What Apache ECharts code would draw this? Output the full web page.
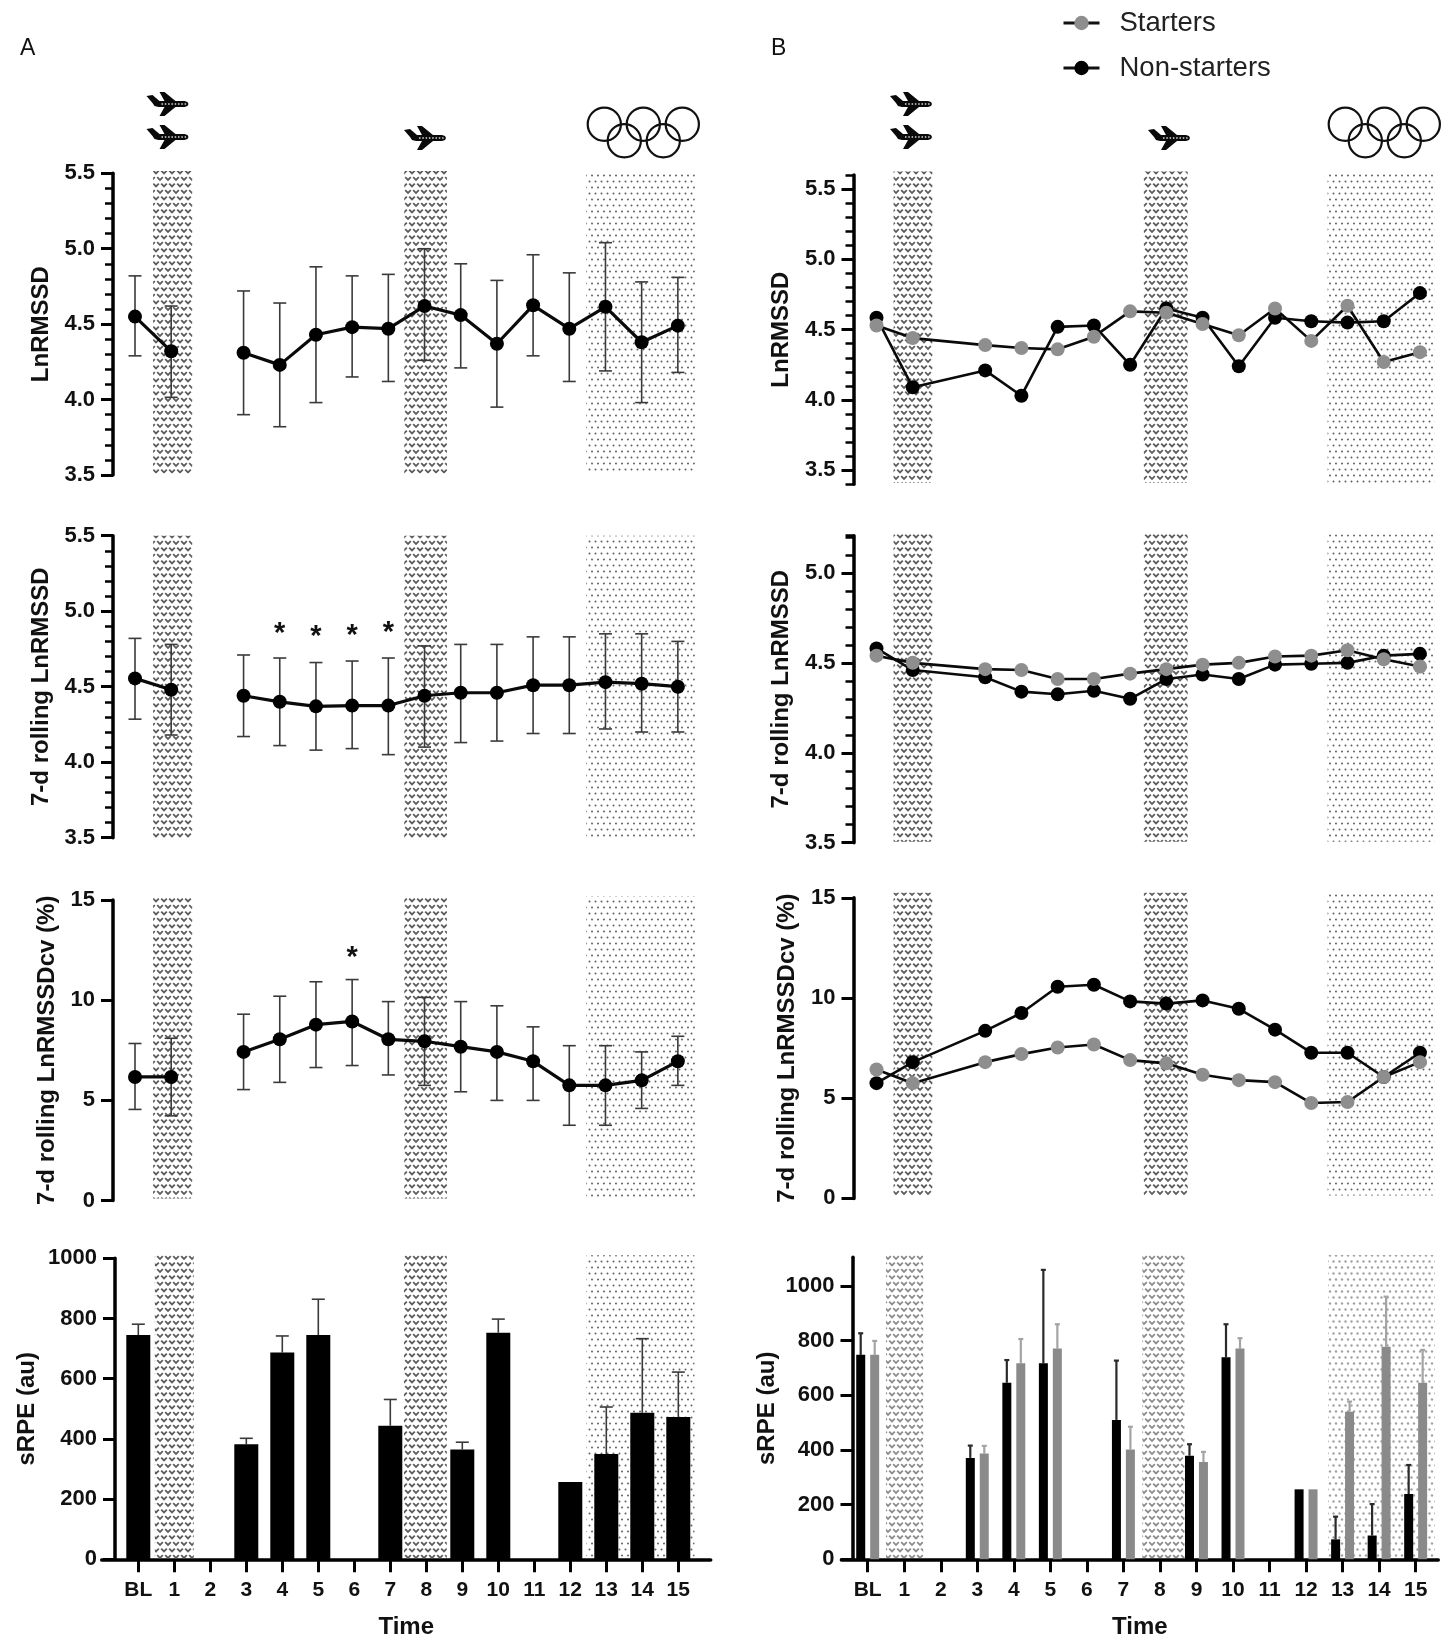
<!DOCTYPE html>
<html><head><meta charset="utf-8">
<style>html,body{margin:0;padding:0;background:#fff}#c{width:1454px;height:1642px}</style>
<script src="https://cdn.jsdelivr.net/npm/echarts@6/dist/echarts.min.js"></script>
</head><body><div id="c"></div>
<script>
const timeLabels=['BL','1','2','3','4','5','6','7','8','9','10','11','12','13','14','15'];
const timeIndex=[0,1,2,3,4,5,6,7,8,9,10,11,12,13,14,15];
// Panel A
const a1Mean=[4.55,4.32,null,4.31,4.23,4.43,4.48,4.47,4.62,4.56,4.37,4.625,4.47,4.615,4.38,4.49];
const a1Hi=[4.82,4.62,null,4.72,4.64,4.88,4.82,4.83,5.0,4.9,4.79,4.96,4.84,5.04,4.78,4.81];
const a1Lo=[4.29,4.015,null,3.9,3.82,3.98,4.15,4.12,4.26,4.21,3.95,4.29,4.12,4.19,3.98,4.18];
const a2Mean=[4.555,4.48,null,4.44,4.4,4.37,4.375,4.375,4.44,4.46,4.46,4.51,4.51,4.53,4.52,4.5];
const a2Hi=[4.82,4.78,null,4.71,4.69,4.66,4.67,4.69,4.77,4.78,4.78,4.83,4.83,4.85,4.85,4.8];
const a2Lo=[4.285,4.18,null,4.17,4.11,4.08,4.09,4.05,4.1,4.13,4.14,4.19,4.19,4.22,4.2,4.2];
const a2Stars=[[4,4.875],[5,4.855],[6,4.86],[7,4.885]];
const a3Mean=[6.17,6.17,null,7.42,8.05,8.78,8.94,8.05,7.95,7.68,7.42,6.95,5.75,5.75,6.0,6.95];
const a3Hi=[7.84,8.1,null,9.3,10.2,10.92,11.03,9.93,10.14,9.93,9.72,8.67,7.73,7.73,7.42,8.2];
const a3Lo=[4.55,4.23,null,5.54,5.9,6.64,6.74,6.27,5.75,5.43,5.0,5.0,3.76,3.76,4.6,5.75];
const a3Stars=[[6,12.33]];
const a4Mean=[745,null,null,382,687,745,null,444,null,365,753,null,257,350,487,473];
const a4Hi=[781,null,null,402,742,864,null,531,null,389,798,null,null,506,733,622];
// Panel B
const b1Starters=[4.53,4.44,null,4.39,4.37,4.36,4.45,4.63,4.62,4.54,4.46,4.65,4.42,4.67,4.27,4.34];
const b1Non=[4.585,4.09,null,4.21,4.03,4.52,4.53,4.25,4.65,4.585,4.24,4.585,4.56,4.55,4.56,4.76];
const b2Starters=[4.54,4.5,null,4.465,4.46,4.41,4.41,4.44,4.465,4.49,4.5,4.535,4.54,4.57,4.52,4.48];
const b2Non=[4.58,4.46,null,4.42,4.34,4.325,4.345,4.3,4.41,4.435,4.41,4.49,4.495,4.5,4.54,4.55];
const b3Starters=[6.43,5.75,null,6.8,7.2,7.53,7.68,6.9,6.74,6.17,5.9,5.8,4.76,4.81,6.06,6.8];
const b3Non=[5.75,6.8,null,8.36,9.25,10.56,10.66,9.83,9.72,9.88,9.46,8.42,7.27,7.27,6.06,7.27];
const b4Non=[748,null,null,371,646,717,null,510,null,379,739,null,256,73,87,239];
const b4NonHi=[827,null,null,416,729,1059,null,727,null,421,860,null,null,156,202,345];
const b4Starters=[748,null,null,387,717,771,null,402,null,356,771,null,256,540,778,646];
const b4StartersHi=[799,null,null,415,806,860,null,485,null,393,809,null,null,577,961,766];
// Shaded periods, in time-axis units
const shadeA=[[0.5,1.58],[7.44,8.62],[12.47,15.47]];
const shadeA4=[[0.46,1.54],[7.38,8.57],[12.45,15.45]];
const shadeB=[[0.47,1.54],[7.38,8.59],[12.45,15.4]];
const shadeB4=[[0.5,1.52],[7.52,8.67],[12.6,15.53]];
const seriesNames=['Starters','Non-starters'];

const FONT='"Liberation Sans",Arial,sans-serif';
function tile(w,h,fn){const c=document.createElement('canvas');c.width=w;c.height=h;const g=c.getContext('2d');fn(g);return c;}
function chevronTile(col,lw){return tile(16,13,g=>{
  g.strokeStyle=col;g.lineWidth=lw;
  const v=(x,y)=>{g.beginPath();g.moveTo(x-2.8,y-1.4);g.lineTo(x,y+1.4);g.lineTo(x+2.8,y-1.4);g.stroke();};
  [[4,3],[12,3],[0,9.5],[8,9.5],[16,9.5]].forEach(p=>v(p[0],p[1]));
});}
function dotTile(col,r){return tile(12,12,g=>{
  g.fillStyle=col;[[1.5,1.5],[7.5,1.5],[4,7.5],[10,7.5]].forEach(p=>{g.beginPath();g.arc(p[0],p[1],r,0,7);g.fill();});
});}
const patDark={image:chevronTile('#5c5c5c',1.8),repeat:'repeat'};
const patDots={image:dotTile('#606060',1.0),repeat:'repeat'};
const patDarkSoft={image:chevronTile('#8c8c8c',1.8),repeat:'repeat'};
const patDotsSoft={image:dotTile('#a2a2a2',1.2),repeat:'repeat'};

const grids=[],xAxes=[],yAxes=[],series=[];
function fix1(v){return v.toFixed(1);}
function addPanel(p){
  const gi=grids.length;
  const left=p.bl+p.xMin*p.step,right=p.bl+p.xMax*p.step;
  grids.push({left:left,width:right-left,top:p.top,height:p.bottom-p.top});
  const off=-(p.axisX-left);
  xAxes.push({gridIndex:gi,type:'value',min:p.xMin,max:p.xMax,show:!!p.showX,
    name:p.showX?'Time':'',nameLocation:'middle',nameGap:56,
    nameTextStyle:{fontFamily:FONT,fontWeight:'bold',fontSize:24,color:'#111'},
    splitLine:{show:false},
    axisLine:{onZero:false,lineStyle:{color:'#000',width:3.5}},
    axisTick:{customValues:timeIndex,length:13,lineStyle:{color:'#000',width:3}},
    axisLabel:{customValues:timeIndex,hideOverlap:false,margin:20,color:'#111',fontFamily:FONT,fontWeight:'bold',fontSize:21,
      formatter:v=>timeLabels[Math.round(v)]}});
  const main=yAxes.length;
  yAxes.push({gridIndex:gi,type:'value',position:'left',offset:off,min:p.yMin,max:p.yMax,
    name:p.title,nameLocation:'middle',nameGap:p.nameGap,
    nameTextStyle:{fontFamily:FONT,fontWeight:'bold',fontSize:p.nameSize||24,color:'#111'},
    splitLine:{show:false},
    axisLine:{show:true,onZero:false,lineStyle:{color:'#000',width:3.5}},
    axisTick:{show:true,customValues:p.ticks,length:12,lineStyle:{color:'#000',width:3}},
    axisLabel:{show:true,customValues:p.ticks,margin:18,color:'#111',fontFamily:FONT,fontWeight:'bold',fontSize:22,
      formatter:p.fmt||(v=>String(v))}});
  if(p.minor){
    yAxes.push({gridIndex:gi,type:'value',position:'left',offset:off,min:p.yMin,max:p.yMax,interval:0.1,
      splitLine:{show:false},axisLine:{show:false,onZero:false},axisLabel:{show:false},
      axisTick:{show:true,length:8,lineStyle:{color:'#000',width:2.5}}});
  }
  // shaded periods
  series.push({type:'custom',name:'shade',xAxisIndex:gi,yAxisIndex:main,z:1,clip:false,silent:true,
    data:p.shades.map((s,i)=>[s[0],s[1],p.shadeY[0],p.shadeY[1],i]),
    encode:{x:[0,1],y:[2,3]},
    renderItem:(params,api)=>{
      const a=api.coord([api.value(0),api.value(3)]),b=api.coord([api.value(1),api.value(2)]);
      const isLast=api.value(4)===2;
      return {type:'rect',shape:{x:a[0],y:a[1],width:b[0]-a[0],height:b[1]-a[1]},
        style:{fill:isLast?p.patDots:p.patDark}};
    }});
  return {gi,main};
}
function rows(xs,a,b){return xs.map((x,i)=>b?[x,a[i],b[i]]:[x,a[i]]);}
function addErrors(ax,hi,lo,opts){
  const data=[];
  timeIndex.forEach((x,i)=>{if(hi[i]!=null)data.push([x,hi[i],lo[i]]);});
  series.push({type:'custom',name:'error',xAxisIndex:ax.gi,yAxisIndex:ax.main,z:opts.z||3,silent:true,
    data:data,encode:{x:0,y:[1,2]},
    renderItem:(params,api)=>{
      const x=api.value(0),h=api.coord([x,api.value(1)]),l=api.coord([x,api.value(2)]);
      const dx=opts.dx||0,st={stroke:opts.color,lineWidth:opts.width},cap=opts.cap/2;
      const kids=[{type:'line',shape:{x1:h[0]+dx,y1:h[1],x2:l[0]+dx,y2:l[1]},style:st},
        {type:'line',shape:{x1:h[0]+dx-cap,y1:h[1],x2:h[0]+dx+cap,y2:h[1]},style:st}];
      if(opts.lower)kids.push({type:'line',shape:{x1:l[0]+dx-cap,y1:l[1],x2:l[0]+dx+cap,y2:l[1]},style:st});
      return {type:'group',children:kids};
    }});
}
function addLine(ax,name,vals,col,lineW,size,z){
  series.push({type:'line',name:name,xAxisIndex:ax.gi,yAxisIndex:ax.main,z:z,
    data:rows(timeIndex,vals),connectNulls:name!=='Mean',symbol:'circle',symbolSize:size,showAllSymbol:true,
    lineStyle:{color:'#0a0a0a',width:lineW},itemStyle:{color:col,borderWidth:0},animation:false});
}
function addStars(ax,stars){
  series.push({type:'custom',name:'significance',xAxisIndex:ax.gi,yAxisIndex:ax.main,z:5,silent:true,
    data:stars,encode:{x:0,y:1},
    renderItem:(params,api)=>{
      const c=api.coord([api.value(0),api.value(1)]);
      return {type:'text',x:c[0],y:c[1]+4,style:{text:'*',fontFamily:FONT,fontWeight:'bold',fontSize:29,fill:'#111',align:'center',verticalAlign:'middle'}};
    }});
}
const t05=[3.5,4,4.5,5,5.5],t05b=[3.5,4,4.5,5],t5=[0,5,10,15],t200=[0,200,400,600,800,1000];
const A={bl:135,step:36.19,xMin:-1,xMax:16,axisX:113,shades:shadeA,patDark,patDots};
const B={bl:876.5,step:36.23,xMin:-1,xMax:15.6,axisX:853.5,shades:shadeB,patDark,patDots};

// A1
let ax=addPanel({...A,top:173.3,bottom:475,yMin:3.5,yMax:5.5,ticks:t05,fmt:fix1,minor:true,title:'LnRMSSD',nameGap:60,shadeY:[3.51,5.515]});
addErrors(ax,a1Hi,a1Lo,{color:'#3a3a3a',width:1.6,cap:13,lower:true});addLine(ax,'Mean',a1Mean,'#000',3.2,14,4);
// A2
ax=addPanel({...A,top:535.7,bottom:837.7,yMin:3.5,yMax:5.5,ticks:t05,fmt:fix1,minor:true,title:'7-d rolling LnRMSSD',nameGap:60,shadeY:[3.49,5.5]});
addErrors(ax,a2Hi,a2Lo,{color:'#3a3a3a',width:1.6,cap:13,lower:true});addLine(ax,'Mean',a2Mean,'#000',3.2,14,4);addStars(ax,a2Stars);
// A3
ax=addPanel({...A,top:900,bottom:1200.6,yMin:0,yMax:15,ticks:t5,title:'7-d rolling LnRMSSDcv (%)',nameGap:54,shadeY:[0.1,15.2]});
addErrors(ax,a3Hi,a3Lo,{color:'#3a3a3a',width:1.6,cap:13,lower:true});addLine(ax,'Mean',a3Mean,'#000',3.2,14,4);addStars(ax,a3Stars);
// A4
ax=addPanel({...A,bl:138.3,step:36,xMin:-1.017,xMax:15.9,axisX:115,shades:shadeA4,showX:true,top:1258.3,bottom:1559.3,yMin:0,yMax:1000,ticks:t200,title:'sRPE (au)',nameGap:76,shadeY:[3,1010]});
addErrors(ax,a4Hi,a4Mean,{color:'#3a3a3a',width:1.6,cap:13});
series.push({type:'bar',name:'sRPE',xAxisIndex:ax.gi,yAxisIndex:ax.main,z:4,barWidth:24,
  data:rows(timeIndex,a4Mean).filter(r=>r[1]!=null),itemStyle:{color:'#000'},animation:false});
// B1
ax=addPanel({...B,top:175,bottom:484.3,yMin:3.4,yMax:5.6,ticks:t05,fmt:fix1,minor:true,title:'LnRMSSD',nameGap:60,shadeY:[3.41,5.625]});
addLine(ax,seriesNames[1],b1Non,'#000',2.6,14,3);addLine(ax,seriesNames[0],b1Starters,'#8e8e8e',2.6,14,4);
// B2
ax=addPanel({...B,top:535.7,bottom:842.7,yMin:3.5,yMax:5.207,ticks:t05b,fmt:fix1,minor:true,title:'7-d rolling LnRMSSD',nameGap:60,shadeY:[3.505,5.215]});
addLine(ax,seriesNames[1],b2Non,'#000',2.6,14,3);addLine(ax,seriesNames[0],b2Starters,'#8e8e8e',2.6,14,4);
// B3
ax=addPanel({...B,top:897.8,bottom:1198.4,yMin:0,yMax:15,ticks:t5,title:'7-d rolling LnRMSSDcv (%)',nameGap:54,shadeY:[0.15,15.25]});
addLine(ax,seriesNames[1],b3Non,'#000',2.6,14,3);addLine(ax,seriesNames[0],b3Starters,'#8e8e8e',2.6,14,4);
// B4
ax=addPanel({bl:867.7,step:36.53,xMin:-0.72,xMax:15.62,axisX:852.5,shades:shadeB4,patDark:patDarkSoft,patDots:patDotsSoft,showX:true,top:1257.3,bottom:1559.3,yMin:0,yMax:1105,ticks:t200,title:'sRPE (au)',nameGap:73,shadeY:[5,1113]});
addErrors(ax,b4NonHi,b4Non,{color:'#2a2a2a',width:2.2,cap:5,dx:-7,z:3});
addErrors(ax,b4StartersHi,b4Starters,{color:'#a4a4a4',width:2.2,cap:5,dx:7,z:3});
series.push({type:'bar',name:'Non-starters sRPE',xAxisIndex:ax.gi,yAxisIndex:ax.main,z:4,barWidth:9,barGap:'55%',
  data:rows(timeIndex,b4Non).filter(r=>r[1]!=null),itemStyle:{color:'#000'},animation:false});
series.push({type:'bar',name:'Starters sRPE',xAxisIndex:ax.gi,yAxisIndex:ax.main,z:4,barWidth:9,barGap:'55%',
  data:rows(timeIndex,b4Starters).filter(r=>r[1]!=null),itemStyle:{color:'#8a8a8a'},animation:false});

// Decorations
const planeShape=[[-21,-8],[-15,-9],[-8,-3],[-3,-3],[-8,-12],[-3,-12],[8,-3],[17,-3],[20,-2],[21,0],[20,2],[17,3],[8,3],[-3,12],[-8,12],[-3,3],[-9,3],[-13,2],[-15,-1]];
function plane(cx,cy){return {type:'group',x:cx,y:cy,silent:true,children:[
  {type:'polygon',shape:{points:planeShape},style:{fill:'#0a0a0a'}},
  {type:'line',shape:{x1:-6,y1:0,x2:19,y2:0},style:{stroke:'#d8d8d8',lineWidth:1.4,lineDash:[1.5,1.8]}}]};}
function rings(dx){const c=[[604.3,124.3],[643.3,124.3],[682.3,124.3],[624.3,140.7],[663.3,140.7]];
  return c.map(q=>({type:'circle',silent:true,shape:{cx:q[0]+dx,cy:q[1],r:16.6},style:{fill:'none',stroke:'#111',lineWidth:2.2}}));}
const graphics=[plane(167.5,104),plane(167.5,137),plane(425,138),plane(911,104),plane(911,137),plane(1169,138),
  ...rings(0),...rings(741),
  {type:'text',left:20,top:37,silent:true,style:{text:'A',fontFamily:FONT,fontSize:23,fill:'#111'}},
  {type:'text',left:771,top:37,silent:true,style:{text:'B',fontFamily:FONT,fontSize:23,fill:'#111'}}];

const chart=echarts.init(document.getElementById('c'),null,{renderer:'canvas'});
chart.setOption({animation:false,backgroundColor:'#fff',textStyle:{fontFamily:FONT},
  grid:grids,xAxis:xAxes,yAxis:yAxes,series:series,graphic:graphics,
  legend:{data:seriesNames,orient:'vertical',left:1062,top:9,padding:0,itemWidth:36,itemHeight:18,itemGap:17,selectedMode:false,
    lineStyle:{width:3,color:'#111'},
    textStyle:{fontFamily:FONT,fontSize:27.5,color:'#222',padding:[0,0,0,15]}}
});
</script></body></html>
